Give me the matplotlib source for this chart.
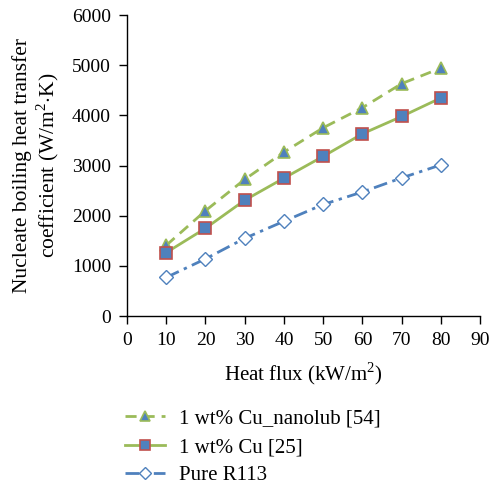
import matplotlib
matplotlib.use("Agg")
import matplotlib.pyplot as plt

heat_flux = [10, 20, 30, 40, 50, 60, 70, 80]
cu_nanolub = [1410, 2100, 2725, 3270, 3755, 4155, 4635, 4945]
cu_25 = [1265, 1750, 2310, 2750, 3185, 3635, 3980, 4350]
pure_r113 = [770, 1140, 1550, 1890, 2225, 2475, 2755, 3015]
labels = ["1 wt% Cu_nanolub [54]", "1 wt% Cu [25]", "Pure R113"]

plt.rcParams['font.family'] = ['Liberation Serif', 'DejaVu Serif']
plt.rcParams['mathtext.fontset'] = 'custom'
plt.rcParams['mathtext.rm'] = 'Liberation Serif'

green = '#9BBB59'
blue = '#4F81BD'
red = '#C0504D'

fig = plt.figure(figsize=(4.96, 4.90), dpi=100)
ax = fig.add_axes([0.256, 0.355, 0.712, 0.614])

ax.plot(heat_flux, cu_nanolub, color=green, lw=2, ls=(0, (4, 2.5)), marker='^',
        ms=9, mfc=blue, mec=green, mew=1.2, label=labels[0])
ax.plot(heat_flux, cu_25, color=green, lw=2, ls='-', marker='s',
        ms=8, mfc=blue, mec=red, mew=1.2, label=labels[1])
ax.plot(heat_flux, pure_r113, color=blue, lw=2, ls=(0, (5, 2, 1.2, 2)), marker='D',
        ms=7, mfc='white', mec=blue, mew=1.0, label=labels[2])

ax.set_xlim(0, 90)
ax.set_ylim(0, 6000)
ax.set_xticks(range(0, 91, 10))
ax.set_yticks(range(0, 6001, 1000))
for s in ['top', 'right']:
    ax.spines[s].set_visible(False)
for s in ['left', 'bottom']:
    ax.spines[s].set_linewidth(1.0)
ax.tick_params(axis='both', direction='out', length=6, width=1, labelsize=14, pad=5.5)
ax.set_xlabel("Heat flux (kW/m$^2$)", fontsize=15, labelpad=8)
ax.set_ylabel("Nucleate boiling heat transfer\ncoefficient (W/m$^2$$\\cdot$K)", fontsize=15.5,
              labelpad=8, linespacing=1.1)

handles, lbls = ax.get_legend_handles_labels()
fig.legend(handles, lbls, loc='upper left', bbox_to_anchor=(0.252, 0.165),
           frameon=False, fontsize=15, handlelength=1.9, labelspacing=0.42,
           borderaxespad=0, borderpad=0, handletextpad=0.7, markerscale=0.85)

fig.savefig("out.png", dpi=100)
